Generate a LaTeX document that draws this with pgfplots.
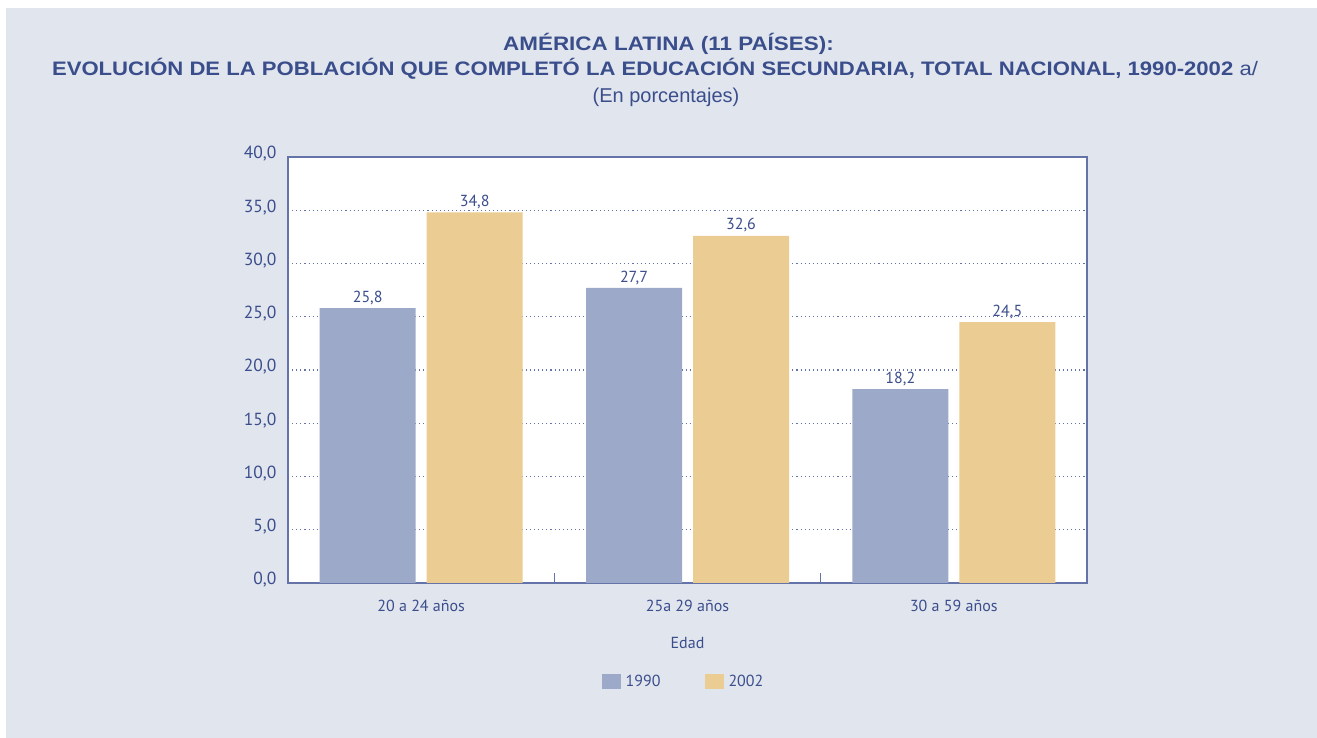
\documentclass[border=0pt]{standalone}
\usepackage{fontspec}
\setmainfont{PT Sans}
\newfontfamily\arialfont{Liberation Sans}
\usepackage{pgfplots}
\pgfplotsset{compat=1.18}
\definecolor{bgc}{HTML}{E1E5EE}
\definecolor{barA}{HTML}{9CA9C8}
\definecolor{barB}{HTML}{EBCC92}
\definecolor{txt}{HTML}{3B4E8C}
\definecolor{axc}{HTML}{6474A8}
\begin{document}
\begin{tikzpicture}[x=1pt,y=1pt]
\fill[white] (0,0) rectangle (1317,738);
\fill[bgc] (6,0) rectangle (1317,730);
\node[text=txt, font=\arialfont\fontsize{19.5}{22}\selectfont\bfseries] at (668.5,694) {\scalebox{1.15}[1]{AMÉRICA LATINA (11 PAÍSES):}};
\node[text=txt, font=\arialfont\fontsize{19.5}{22}\selectfont\bfseries] at (655,669) {\scalebox{1.133}[1]{EVOLUCIÓN DE LA POBLACIÓN QUE COMPLETÓ LA EDUCACIÓN SECUNDARIA, TOTAL NACIONAL, 1990-2002 \mdseries a/}};
\node[text=txt, font=\arialfont\fontsize{20}{22}\selectfont] at (666,641) {(En porcentajes)};
\begin{axis}[
  at={(288pt,155pt)}, anchor=south west,
  scale only axis, width=799pt, height=426pt,
  xmin=-0.5, xmax=2.5, ymin=0, ymax=40,
  ybar=11pt, bar width=96pt,
  axis background/.style={fill=white},
  xtick={0,1,2},
  xticklabels={20 a 24 años, 25a 29 años, 30 a 59 años},
  minor xtick={0.5,1.5},
  xtick pos=bottom, ytick pos=left,
  tick align=inside,
  major tick length=0pt, minor tick length=10pt,
  minor tick style={draw=axc, line width=1.6pt},
  ytick={0,5,...,40},
  ymajorgrids,
  major grid style={draw=axc, line width=1.1pt, dash pattern=on 1.1pt off 3pt},
  axis line style={draw=axc, line width=2pt},
  /pgf/number format/assume math mode=true,
  yticklabel={\pgfmathprintnumber[fixed,fixed zerofill,precision=1,use comma]{\tick}},
  yticklabel style={font=\fontsize{17.5}{19}\selectfont, text=txt, xshift=-8pt, yshift=3pt},
  xticklabel style={font=\fontsize{16}{18}\selectfont, text=txt, yshift=-14pt},
  xlabel={Edad},
  xlabel style={font=\fontsize{16}{18}\selectfont, text=txt, at={(axis description cs:0.5,-0.1408)}, anchor=center},
  nodes near coords,
  nodes near coords style={font=\fontsize{16}{18}\selectfont, text=txt, /pgf/number format/.cd, fixed, fixed zerofill, precision=1, use comma, assume math mode=true},
  legend style={at={(axis description cs:0.495,-0.2324)}, anchor=center, draw=none, fill=none,
    font=\fontsize{16}{18}\selectfont, text=txt, legend columns=2,
    /tikz/every odd column/.append style={column sep=3pt},
    /tikz/every even column/.append style={column sep=42pt}},
  legend image code/.code={\fill[#1] (0pt,-7pt) rectangle (19pt,8pt);},
]
\addplot[fill=barA, draw=none] coordinates {(0,25.8) (1,27.7) (2,18.2)};
\addplot[fill=barB, draw=none] coordinates {(0,34.8) (1,32.6) (2,24.5)};
\legend{1990,2002}
\end{axis}
\end{tikzpicture}
\end{document}
